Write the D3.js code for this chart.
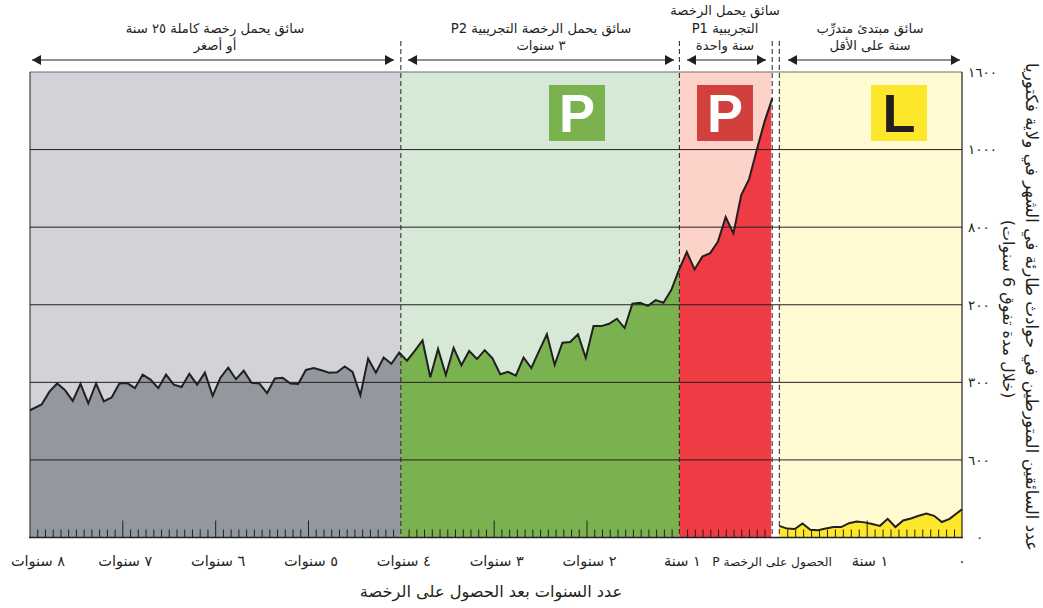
<!DOCTYPE html>
<html>
<head>
  <meta charset="utf-8">
  <title>Crashes by licence stage</title>
  <script src="https://d3js.org/d3.v7.min.js"></script>
  <style>
    body { margin: 0; background: #fff; }
    svg { display: block; }
    text { font-family: "DejaVu Sans", sans-serif; fill: #231f20; }
    .lab { font-size: 13.2px; text-anchor: middle; direction: rtl; }
    .yr { font-size: 14.5px; }
    .axis path { display: none; }
    .axis line { stroke: #231f20; }
    .axis text { font-size: 13.5px; letter-spacing: -0.6px; }
  </style>
</head>
<body>
  <div id="chart"></div>
  <script>
    // months before the licence date, oldest first
    const licensedMonths = [95.5, 94, 93, 92, 91, 90, 89, 88, 87, 86, 85, 84, 83, 82, 81, 80, 79, 78, 77, 76, 75, 74, 73, 72, 71, 70, 69, 68, 67, 66, 65, 64, 63, 62, 61, 60, 59, 58, 57, 56, 55, 54, 53, 52, 51, 50, 49, 48, 47, 46, 45, 44, 43, 42, 41, 40, 39, 38, 37, 36, 35, 34, 33, 32, 31, 30, 29, 28, 27, 26, 25, 24, 23, 22, 21, 20, 19, 18, 17, 16, 15, 14, 13, 12, 11, 10, 9, 8, 7, 6, 5, 4, 3, 2, 1, 0];
    const licensedValues = [328, 343, 376, 397, 380, 352, 396, 346, 397, 351, 361, 397, 398, 385, 420, 407, 385, 420, 394, 388, 422, 394, 425, 365, 412, 438, 408, 430, 399, 397, 372, 410, 412, 397, 396, 432, 437, 431, 425, 426, 441, 427, 367, 461, 425, 464, 448, 477, 456, 481, 508, 413, 486, 419, 489, 444, 481, 460, 483, 462, 421, 427, 417, 464, 437, 481, 524, 445, 502, 504, 524, 463, 545, 545, 551, 564, 540, 603, 605, 597, 612, 605, 638, 690, 736, 691, 724, 733, 762, 826, 784, 883, 923, 999, 1072, 1132];
    const learnerMonths = [0, 1, 2, 3, 4, 5, 6, 7, 8, 9, 10, 11, 12, 13, 14, 15, 16, 17, 18, 19, 20, 21, 22, 23.6];
    const learnerValues = [30, 23, 22, 36, 20, 19, 23, 27, 27, 37, 41, 39, 35, 30, 48, 27, 44, 49, 56, 62, 56, 40, 48, 73];

    const yTicks = [0, 200, 400, 600, 800, 1000, 1200];
    const yTickLabels = ["٠", "٦٠٠", "٣٠٠", "٢٠٠", "٨٠٠", "١٠٠٠", "١٦٠٠"];
    const yearMonths = [12, 24, 36, 48, 60, 72, 84, 96];
    const yearLabels = ["١ سنة", "٢ سنوات", "٣ سنوات", "٤ سنوات", "٥ سنوات", "٦ سنوات", "٧ سنوات", "٨ سنوات"];
    const stages = ["grey", "green", "red", "yellow"];

    const width = 1043, height = 608;
    const plotLeft = 30, plotRight = 962, plotTop = 72, plotBottom = 537.5;

    const svg = d3.select("#chart").append("svg")
      .attr("width", width).attr("height", height);

    const y = d3.scaleLinear().domain([0, 1200]).range([plotBottom, plotTop]);
    const xLine = d3.scaleLinear().domain([95.5, 0]).range([plotLeft, 772.3]);
    const xTick = d3.scaleLinear().domain([96, 0]).range([29.5, 772.2]);
    const xLearner = d3.scaleLinear().domain([0, 23.6]).range([779.3, plotRight]);
    const xLearnerTick = d3.scaleLinear().domain([0, 23]).range([779.3, plotRight]);

    const x401 = xTick(48), x679 = xTick(12), x771 = xTick(0) - 1, x779 = xLearner(0);

    const regions = {
      grey: { x0: plotLeft, x1: x401, bg: "#d1d3d8", fill: "#93989f" },
      green: { x0: x401, x1: x679, bg: "#d5e9d6", fill: "#7ab250" },
      red: { x0: x679, x1: x771, bg: "#fdd2c8", fill: "#ef3b43" },
      yellow: { x0: x779, x1: plotRight, bg: "#fffad2", fill: "#fde72a" }
    };

    // backgrounds
    stages.forEach(s => {
      const r = regions[s];
      svg.append("rect").attr("x", r.x0).attr("y", plotTop)
        .attr("width", r.x1 - r.x0).attr("height", plotBottom - plotTop).attr("fill", r.bg);
      svg.append("clipPath").attr("id", "clip-" + s).append("rect")
        .attr("x", r.x0).attr("y", plotTop).attr("width", r.x1 - r.x0).attr("height", plotBottom - plotTop);
    });

    // filled areas
    const licensed = licensedMonths.map((m, i) => ({ m: m, v: licensedValues[i] }));
    const learner = learnerMonths.map((m, i) => ({ m: m, v: learnerValues[i] }));

    const area = d3.area().x(d => xLine(d.m)).y0(plotBottom).y1(d => y(d.v));
    const areaL = d3.area().x(d => xLearner(d.m)).y0(plotBottom).y1(d => y(d.v));

    ["grey", "green", "red"].forEach(s => {
      svg.append("path").datum(licensed).attr("d", area)
        .attr("fill", regions[s].fill).attr("clip-path", "url(#clip-" + s + ")");
    });
    svg.append("path").datum(learner).attr("d", areaL).attr("fill", regions.yellow.fill);

    // gridlines
    svg.selectAll(".grid").data(yTicks.slice(1, -1)).enter().append("line")
      .attr("class", "grid")
      .attr("x1", plotLeft).attr("x2", plotRight)
      .attr("y1", d => y(d)).attr("y2", d => y(d))
      .attr("stroke", "#231f20").attr("stroke-width", 1);

    // frame
    svg.append("line").attr("x1", plotLeft).attr("x2", plotRight).attr("y1", plotTop).attr("y2", plotTop)
      .attr("stroke", "#6d6e71").attr("stroke-width", 1.2);
    svg.append("line").attr("x1", plotLeft).attr("x2", plotLeft).attr("y1", plotTop).attr("y2", plotBottom)
      .attr("stroke", "#231f20").attr("stroke-width", 1);
    svg.append("line").attr("x1", plotRight).attr("x2", plotRight).attr("y1", plotTop).attr("y2", plotBottom)
      .attr("stroke", "#231f20").attr("stroke-width", 1.2);

    // month ticks
    const minorMonths = d3.range(1, 96).filter(m => m % 12 !== 0);
    const majorMonths = [24, 36, 60, 72, 84];
    svg.append("g").attr("class", "axis").attr("transform", `translate(0,${plotBottom})`)
      .call(d3.axisTop(xTick).tickValues(minorMonths).tickSize(8).tickFormat(""));
    svg.append("g").attr("class", "axis").attr("transform", `translate(0,${plotBottom})`)
      .call(d3.axisTop(xTick).tickValues(majorMonths).tickSize(17).tickFormat(""));

    svg.append("g").attr("class", "axis").attr("transform", `translate(0,${plotBottom})`)
      .call(d3.axisTop(xLearnerTick).tickValues(d3.range(1, 23).filter(m => m !== 11)).tickSize(8).tickFormat(""));
    svg.append("g").attr("class", "axis").attr("transform", `translate(0,${plotBottom})`)
      .call(d3.axisTop(xLearnerTick).tickValues([11]).tickSize(17).tickFormat(""));

    svg.append("line").attr("x1", plotLeft - 1).attr("x2", plotRight + 1).attr("y1", plotBottom).attr("y2", plotBottom)
      .attr("stroke", "#231f20").attr("stroke-width", 1.4);

    // data line
    const line = d3.line().x(d => xLine(d.m)).y(d => y(d.v));
    const lineL = d3.line().x(d => xLearner(d.m)).y(d => y(d.v));
    svg.append("path").datum(licensed).attr("d", line)
      .attr("fill", "none").attr("stroke", "#231f20").attr("stroke-width", 2);
    svg.append("path").datum(learner).attr("d", lineL)
      .attr("fill", "none").attr("stroke", "#231f20").attr("stroke-width", 2);

    // dashed stage boundaries
    [x401, x679, xTick(0), x779].forEach(d => {
      svg.append("line").attr("x1", d).attr("x2", d).attr("y1", 41).attr("y2", plotBottom)
        .attr("stroke", "#231f20").attr("stroke-width", 1).attr("stroke-dasharray", "5,3");
    });

    // stage arrows
    const arrows = [[32, 394], [408, 674], [687, 766], [788, 960]];
    arrows.forEach(a => {
      svg.append("line").attr("x1", a[0]).attr("x2", a[1]).attr("y1", 60).attr("y2", 60)
        .attr("stroke", "#231f20").attr("stroke-width", 1);
      svg.append("path").attr("d", `M${a[0]},60 l9,-5 v10 z`).attr("fill", "#231f20");
      svg.append("path").attr("d", `M${a[1]},60 l-9,-5 v10 z`).attr("fill", "#231f20");
    });

    // licence plates
    const plates = [
      { x: 549, c: "#7ab250", t: "P", tc: "#fff" },
      { x: 697, c: "#d1403d", t: "P", tc: "#fff" },
      { x: 871, c: "#fde72a", t: "L", tc: "#231f20" }
    ];
    plates.forEach(p => {
      svg.append("rect").attr("x", p.x).attr("y", 85).attr("width", 56).attr("height", 56).attr("fill", p.c);
      svg.append("text").attr("x", p.x + 28).attr("y", 132).attr("text-anchor", "middle")
        .style("font-family", "'Liberation Sans', sans-serif")
        .style("font-size", "54px").style("font-weight", "bold").style("fill", p.tc).text(p.t);
    });

    // stage captions
    const captions = [
      { x: 215, y: 33, t: "سائق يحمل رخصة كاملة ٢٥ سنة" },
      { x: 215, y: 50, t: "أو أصغر" },
      { x: 541, y: 33, t: "سائق يحمل الرخصة التجريبية P2" },
      { x: 541, y: 50, t: "٣ سنوات" },
      { x: 725, y: 15, t: "سائق يحمل الرخصة" },
      { x: 725, y: 33, t: "التجريبية P1" },
      { x: 725, y: 50, t: "سنة واحدة" },
      { x: 870, y: 33, t: "سائق مبتدئ متدرِّب" },
      { x: 870, y: 50, t: "سنة على الأقل" }
    ];
    svg.selectAll(".cap").data(captions).enter().append("text")
      .attr("class", "lab cap").attr("x", d => d.x).attr("y", d => d.y).text(d => d.t);

    // y axis labels
    svg.append("g").attr("class", "axis").attr("transform", `translate(${plotRight},0)`)
      .call(d3.axisRight(y).tickValues(yTicks).tickSize(0).tickPadding(6)
        .tickFormat((d, i) => yTickLabels[i]))
      .selectAll(".tick").filter(d => d === 0).select("text").attr("x", 14);

    // x axis labels
    svg.selectAll(".yr").data(yearMonths).enter().append("text")
      .attr("class", "lab yr")
      .attr("x", d => d === 96 ? 38 : xTick(d) + 3)
      .attr("y", 566)
      .text((d, i) => yearLabels[i]);
    svg.append("text").attr("class", "lab").attr("x", 772).attr("y", 566).style("font-size", "12.2px").text("الحصول على الرخصة P");
    svg.append("text").attr("class", "lab yr").attr("x", 870).attr("y", 566).text("١ سنة");
    svg.append("text").attr("class", "lab yr").attr("x", plotRight).attr("y", 566).text("٠");
    svg.append("text").attr("class", "lab").attr("x", 491).attr("y", 597).style("font-size", "16.2px")
      .text("عدد السنوات بعد الحصول على الرخصة");

    // rotated y title
    svg.append("text").attr("class", "lab").attr("transform", "translate(1026,307) rotate(90)")
      .style("font-size", "16.8px").text("عدد السائقين المتورطين في حوادث طارئة في الشهر في ولاية فكتوريا");
    svg.append("text").attr("class", "lab").attr("transform", "translate(1003,309) rotate(90)")
      .style("font-size", "16px").text("(خلال مدة تفوق 6 سنوات)");
  </script>
</body>
</html>
